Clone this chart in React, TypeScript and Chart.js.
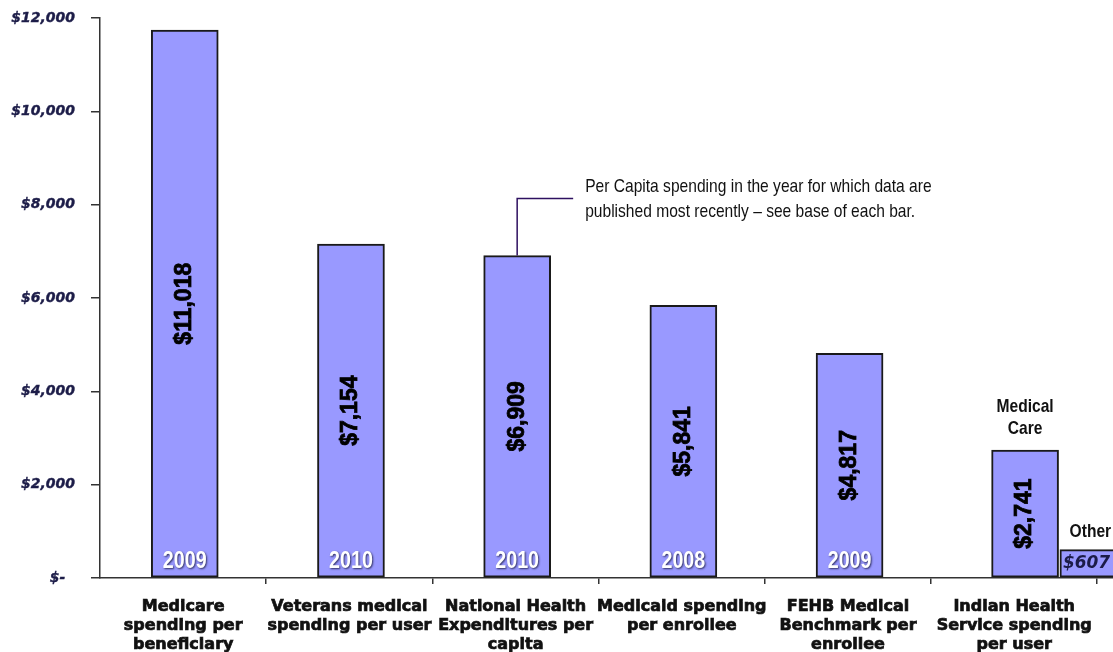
import React, { useEffect, useRef } from 'react';
import { Chart, registerables } from 'chart.js';

Chart.register(...registerables);

// ---- data ----
const categories: string[][] = [
  ['Medicare', 'spending per', 'beneficiary'],
  ['Veterans medical', 'spending per user'],
  ['National Health', 'Expenditures per', 'capita'],
  ['Medicaid spending', 'per enrollee'],
  ['FEHB Medical', 'Benchmark per', 'enrollee'],
  ['Indian Health', 'Service spending', 'per user'],
];
const spending = [11740, 7154, 6909, 5841, 4817, 2741];
const spendingLabels = ['$11,018', '$7,154', '$6,909', '$5,841', '$4,817', '$2,741'];
const dataYears = ['2009', '2010', '2010', '2008', '2009', ''];
const otherSpending = 607;
const otherLabel = '$607';
const ihsParts = ['Medical', 'Care'];
const otherName = 'Other';
const yTickValues = [0, 2000, 4000, 6000, 8000, 10000, 12000];
const annotationLines = [
  'Per Capita spending in the year for which data are',
  'published most recently \u2013 see base of each bar.',
];

// ---- layout / style constants ----
const IHS_SHIFT = 0.066;
const OTHER_SHIFT = 0.477;
const BAR_FILL = '#9999ff';
const BAR_BORDER = '#1a1a1a';
const AXIS = '#333333';
const NARROW = 0.82;

function narrowText(
  ctx: CanvasRenderingContext2D,
  text: string,
  x: number,
  y: number,
  font: string,
  align: CanvasTextAlign,
  color: string
) {
  ctx.save();
  ctx.font = font;
  ctx.fillStyle = color;
  ctx.textAlign = align;
  ctx.textBaseline = 'middle';
  ctx.translate(x, y);
  ctx.scale(NARROW, 1);
  ctx.fillText(text, 0, 0);
  ctx.restore();
}

const labelsPlugin = {
  id: 'barLabels',
  afterDatasetsDraw(chart: any) {
    const ctx: CanvasRenderingContext2D = chart.ctx;
    const main = chart.getDatasetMeta(0).data;
    main.forEach((bar: any, i: number) => {
      const { x, y, base } = bar.getProps(['x', 'y', 'base'], true);
      ctx.save();
      ctx.translate(x, (y + base) / 2);
      ctx.rotate(-Math.PI / 2);
      ctx.font = 'bold 23px "Liberation Sans", Arial, sans-serif';
      ctx.fillStyle = '#000';
      ctx.strokeStyle = '#000';
      ctx.lineWidth = 0.8;
      ctx.textAlign = 'center';
      ctx.textBaseline = 'middle';
      ctx.fillText(spendingLabels[i], 0, 0);
      ctx.strokeText(spendingLabels[i], 0, 0);
      ctx.restore();
      if (dataYears[i]) {
        ctx.save();
        ctx.shadowColor = 'rgba(30,30,70,0.85)';
        ctx.shadowBlur = 2;
        ctx.shadowOffsetX = 1;
        ctx.shadowOffsetY = 1;
        narrowText(ctx, dataYears[i], x, base - 16, 'bold 24px "Liberation Sans", Arial, sans-serif', 'center', '#ffffff');
        ctx.restore();
      }
    });

    const ihs = main[5].getProps(['x', 'y'], true);
    narrowText(ctx, ihsParts[0], ihs.x, ihs.y - 43, 'bold 19px "Liberation Sans", Arial, sans-serif', 'center', '#111');
    narrowText(ctx, ihsParts[1], ihs.x, ihs.y - 21, 'bold 19px "Liberation Sans", Arial, sans-serif', 'center', '#111');

    const other = chart.getDatasetMeta(1).data[0].getProps(['x', 'y', 'base', 'width'], true);
    narrowText(ctx, otherName, other.x - 3, other.y - 18, 'bold 19px "Liberation Sans", Arial, sans-serif', 'center', '#111');
    ctx.save();
    ctx.font = 'italic bold 17px "DejaVu Sans", sans-serif';
    ctx.fillStyle = '#1c1c48';
    ctx.textAlign = 'left';
    ctx.textBaseline = 'middle';
    ctx.fillText(otherLabel, other.x - other.width / 2 + 3, (other.y + other.base) / 2);
    ctx.restore();

    const nhe = main[2].getProps(['x', 'y'], true);
    ctx.save();
    ctx.strokeStyle = '#2e1060';
    ctx.lineWidth = 1.5;
    ctx.beginPath();
    ctx.moveTo(nhe.x, nhe.y);
    ctx.lineTo(nhe.x, nhe.y - 57);
    ctx.lineTo(nhe.x + 56, nhe.y - 57);
    ctx.stroke();
    ctx.restore();
    narrowText(ctx, annotationLines[0], nhe.x + 68, nhe.y - 69, '19px "Liberation Sans", Arial, sans-serif', 'left', '#111');
    narrowText(ctx, annotationLines[1], nhe.x + 68, nhe.y - 44, '19px "Liberation Sans", Arial, sans-serif', 'left', '#111');
  },
};

export default function App() {
  const ref = useRef<HTMLCanvasElement>(null);

  useEffect(() => {
    if (!ref.current) return;
    const mainData = spending.map((v, i) => ({
      x: i + 0.51 + (i === 5 ? IHS_SHIFT - 0.01 : 0),
      y: v,
    }));
    const otherData = [{ x: 5.5 + OTHER_SHIFT, y: otherSpending }];

    const barStyle = {
      backgroundColor: BAR_FILL,
      borderColor: BAR_BORDER,
      borderWidth: 2,
      borderSkipped: false,
      barThickness: 67,
      grouped: false,
      categoryPercentage: 1,
      barPercentage: 1,
    };

    const chart = new Chart(ref.current, {
      type: 'bar',
      data: {
        datasets: [
          { data: mainData as any, ...barStyle },
          { data: otherData as any, ...barStyle },
        ],
      },
      options: {
        animation: false,
        responsive: true,
        maintainAspectRatio: false,
        layout: { padding: { top: 18, right: 0, left: 0, bottom: 0 } },
        plugins: {
          legend: { display: false },
          tooltip: { enabled: false },
        },
        scales: {
          x: {
            type: 'linear',
            position: 'bottom',
            offset: false,
            min: 0,
            max: 6.095,
            afterBuildTicks: (scale: any) => {
              scale.ticks = categories.map((_, i) => ({ value: i + 1 }));
            },
            afterFit: (scale: any) => {
              scale.height = 74;
              scale.paddingLeft = 0;
              scale.paddingRight = 0;
            },
            ticks: {
              autoSkip: false,
              maxRotation: 0,
              minRotation: 0,
              labelOffset: -83,
              padding: 13,
              color: '#111',
              textStrokeColor: '#111',
              textStrokeWidth: 0.7,
              font: { family: '"DejaVu Sans", sans-serif', weight: 'bold', size: 16, lineHeight: 1.2 },
              callback: (_v: any, index: number) => categories[index],
            },
            grid: { offset: false, drawOnChartArea: false, drawTicks: true, tickLength: 6, color: AXIS, lineWidth: 1.5 },
            border: { color: AXIS, width: 1.5 },
          },
          y: {
            min: 0,
            max: 12000,
            afterBuildTicks: (scale: any) => {
              scale.ticks = yTickValues.map((v) => ({ value: v }));
            },
            afterFit: (scale: any) => {
              scale.width = 100;
              scale.paddingTop = 0;
              scale.paddingBottom = 0;
            },
            ticks: {
              padding: 16,
              color: '#1c1c48',
              textStrokeColor: '#1c1c48',
              textStrokeWidth: 0.4,
              font: { family: '"DejaVu Sans", sans-serif', weight: 'bold', style: 'italic', size: 14 },
              callback: (v: any) => (v === 0 ? '$-  ' : '$' + Number(v).toLocaleString('en-US')),
            },
            grid: { drawOnChartArea: false, drawTicks: true, tickLength: 9, color: AXIS, lineWidth: 1.5 },
            border: { color: AXIS, width: 1.5 },
          },
        },
      },
      plugins: [labelsPlugin],
    } as any);

    return () => chart.destroy();
  }, []);

  return (
    <div style={{ position: 'absolute', left: 0, top: 0, width: 1113, height: 652 }}>
      <canvas ref={ref} />
    </div>
  );
}
